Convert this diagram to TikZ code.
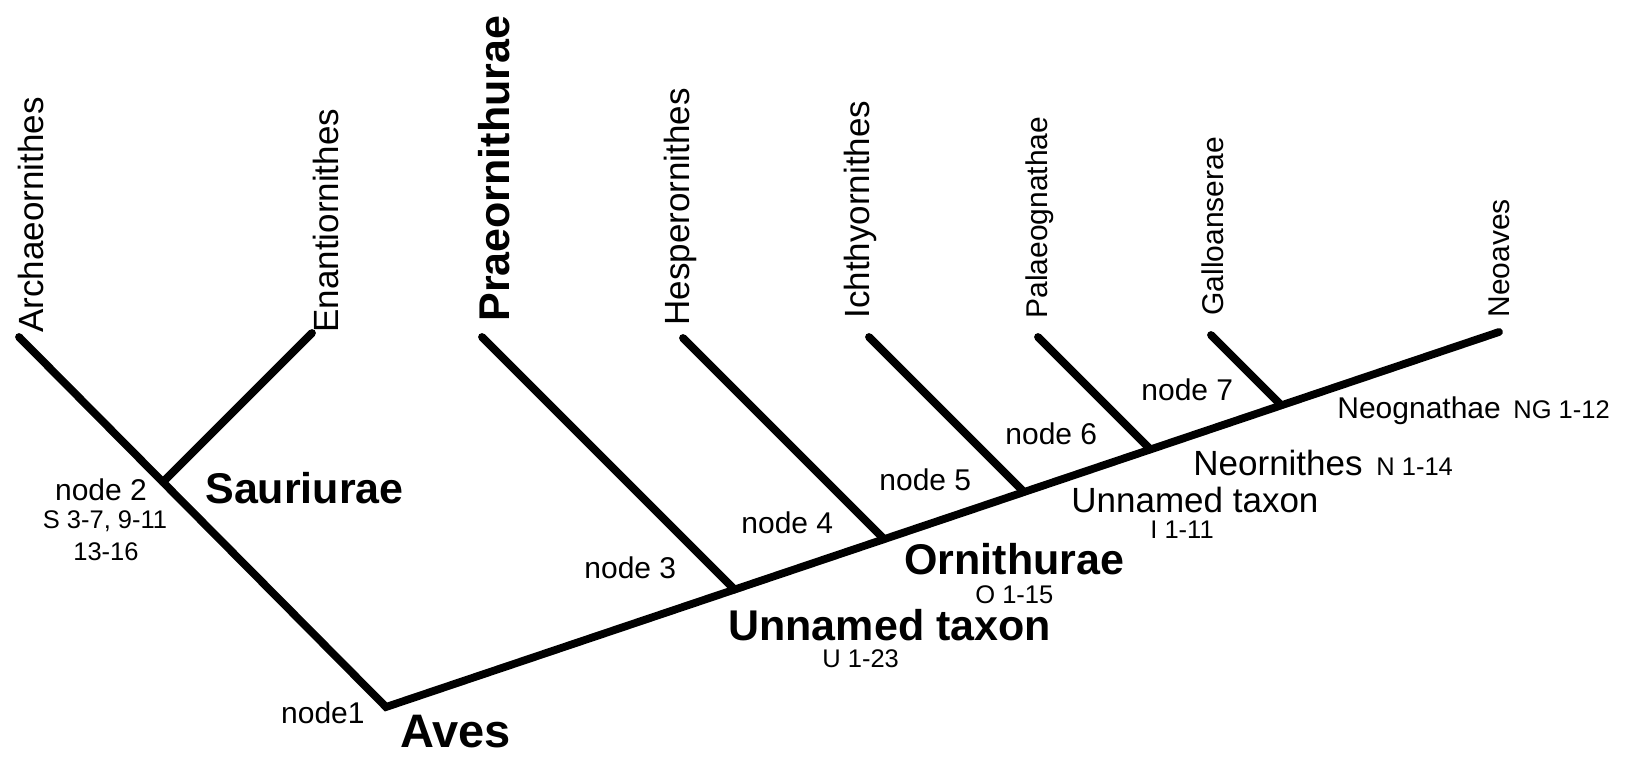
\documentclass[tikz,border=0pt]{standalone}
\usepackage{fontspec}
\setmainfont{Liberation Sans}
\begin{document}
\begin{tikzpicture}[x=0.5pt,y=-0.5pt,
  branch/.style={line width=3.9pt,line cap=round,line join=miter},
  tiplab/.style={rotate=90,anchor=base west,inner sep=0pt,font=\fontsize{17.5}{17.5}\selectfont},
  tipsm/.style={tiplab,font=\fontsize{15}{15}\selectfont},
  tipbold/.style={tiplab,font=\fontsize{21.5}{21.5}\selectfont\bfseries},
  lbBig/.style={anchor=base west,inner sep=0pt,font=\fontsize{17.5}{17.5}\selectfont},
  lbMid/.style={anchor=base west,inner sep=0pt,font=\fontsize{15}{15}\selectfont},
  lbSmall/.style={anchor=base west,inner sep=0pt,font=\fontsize{12.75}{12.75}\selectfont},
  lbBold/.style={anchor=base west,inner sep=0pt,font=\fontsize{21.5}{21.5}\selectfont\bfseries},
]
\useasboundingbox (0,0) rectangle (1630,761);
% tips and junctions
\coordinate (tA) at (19,337);
\coordinate (n1) at (386,707);
\coordinate (n2) at (162.9,482.1);
\coordinate (tE) at (312,333);
\coordinate (tNeo) at (1499,332);
\coordinate (tP) at (482,337);
\coordinate (n3) at (734.6,589.6);
\coordinate (tH) at (683,338);
\coordinate (n4) at (884.2,539.2);
\coordinate (tI) at (869,337);
\coordinate (n5) at (1024,492);
\coordinate (tPa) at (1038,337);
\coordinate (n6) at (1150.4,449.4);
\coordinate (tG) at (1211,335);
\coordinate (n7) at (1281.3,405.3);
% tree
\draw[branch] (tA) -- (n1) -- (tNeo);
\draw[branch] (n2) -- (tE);
\draw[branch] (n3) -- (tP);
\draw[branch] (n4) -- (tH);
\draw[branch] (n5) -- (tI);
\draw[branch] (n6) -- (tPa);
\draw[branch] (n7) -- (tG);
% tip labels
\node[tiplab] (lA) at (43.5,333) {Archaeornithes};
\node[tiplab] (lE) at (338,333) {Enantiornithes};
\node[tipbold] (lP) at (509,322) {Praeornithurae};
\node[tiplab] (lH) at (689,326) {Hesperornithes};
\node[tiplab] (lI) at (869,319) {Ichthyornithes};
\node[tipsm] (lPa) at (1047,319) {Palaeognathae};
\node[tipsm] (lG) at (1223,316) {Galloanserae};
\node[tipsm] (lNeo) at (1509,318) {Neoaves};
% node labels
\node[lbMid,anchor=base] (ln2) at (101,500) {node 2};
\node[lbSmall,anchor=base] (ln2a) at (105,528) {S 3-7, 9-11};
\node[lbSmall,anchor=base] (ln2b) at (106,560) {13-16};
\node[lbBold] (lSaur) at (205,503) {Sauriurae};
\node[lbMid,anchor=base east] (ln1) at (365,723) {node1};
\node[lbBold,font=\fontsize{23.5}{23.5}\selectfont\bfseries] (lAves) at (400,747) {Aves};
\node[lbMid] (ln3) at (584,578) {node 3};
\node[lbMid] (ln4) at (741,533) {node 4};
\node[lbMid] (ln5) at (879,490) {node 5};
\node[lbMid] (ln6) at (1005,444) {node 6};
\node[lbMid] (ln7) at (1141,400) {node 7};
\node[lbBold] (lOrn) at (904,574) {Ornithurae};
\node[lbSmall] (lO) at (975,603) {O 1-15};
\node[lbBold] (lUn) at (728,640) {Unnamed taxon};
\node[lbSmall] (lU) at (822,667) {U 1-23};
\node[lbBig] (lUn2) at (1071,512) {Unnamed taxon};
\node[lbSmall] (lI2) at (1150,538) {I 1-11};
\node[lbBig] (lNeorn) at (1193,475) {Neornithes};
\node[lbSmall] (lN) at (1376,475) {N 1-14};
\node[lbMid] (lNeog) at (1337,418) {Neognathae};
\node[lbSmall] (lNG) at (1513,418) {NG 1-12};
\end{tikzpicture}
\end{document}
